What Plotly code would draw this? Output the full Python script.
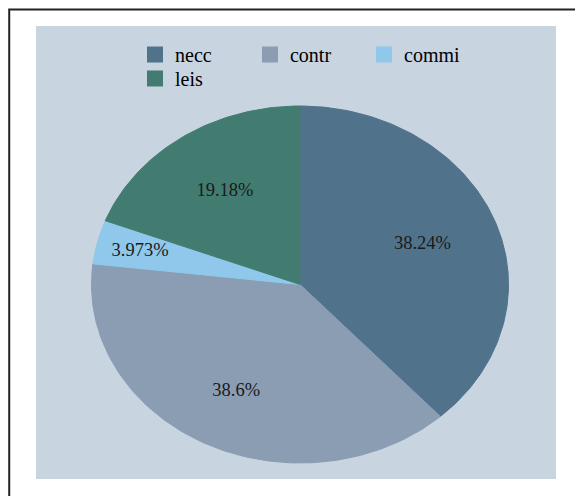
import numpy as np
import plotly.graph_objects as go

# ---- data ----
categories = ["necc", "contr", "commi", "leis"]
shares = [38.24, 38.6, 3.973, 19.18]
colors = ["#50728A", "#8A9DB2", "#8FC8EB", "#427C70"]

# ---- styling ----
FONT = "Liberation Serif"
PANEL = "#C8D4E0"
label_r = [0.63, 0.67, 0.79, 0.635]
legend_pos = [(0.1904, 0.9801), (0.4115, 0.9801), (0.6308, 0.9801), (0.1904, 0.9272)]

total = float(sum(shares))
fig = go.Figure()

start = 0.0
for i, (cat, v, col) in enumerate(zip(categories, shares, colors)):
    span = 2 * np.pi * v / total
    n = max(int(400 * v / total), 12)
    th = np.linspace(start, start + span, n)
    xs = np.concatenate([[0.0], np.sin(th), [0.0]])
    ys = np.concatenate([[0.0], np.cos(th), [0.0]])
    fig.add_trace(go.Scatter(
        x=xs, y=ys, mode="lines", fill="toself", fillcolor=col,
        line=dict(color=col, width=1), showlegend=False, hoverinfo="skip"))
    mid = start + span / 2
    fig.add_trace(go.Scatter(
        x=[label_r[i] * np.sin(mid)], y=[label_r[i] * np.cos(mid)],
        mode="text", text=[f"{100 * v / total:.4g}%"],
        textfont=dict(family=FONT, size=18.5, color="#1a1a1a"),
        textposition="middle center", showlegend=False, hoverinfo="skip"))
    start += span

# one legend box per entry so the 3 + 1 arrangement is exact
legend_layout = {}
for i, (cat, col) in enumerate(zip(categories, colors)):
    key = "legend" if i == 0 else f"legend{i + 1}"
    fig.add_trace(go.Scatter(
        x=[None], y=[None], mode="markers", name=cat,
        marker=dict(symbol="square", size=16, color=col),
        legend=key))
    legend_layout[key] = dict(
        x=legend_pos[i][0], y=legend_pos[i][1],
        xanchor="left", yanchor="top",
        bgcolor="rgba(0,0,0,0)",
        font=dict(family=FONT, size=20, color="#000"),
        itemclick=False)

fig.update_layout(
    width=567, height=488,
    margin=dict(l=28, r=19, t=18, b=17),
    paper_bgcolor="white", plot_bgcolor=PANEL,
    xaxis=dict(range=[-1.2662, 1.2278], visible=False, fixedrange=True),
    yaxis=dict(range=[-1.0896, 1.4482], visible=False, fixedrange=True),
    showlegend=True,
    shapes=[dict(type="rect", xref="paper", yref="paper",
                 x0=-0.0515, x1=2, y0=-0.5, y1=1.0365,
                 line=dict(color="#222", width=2), layer="above")],
    **legend_layout,
)

fig.write_html("out.html")
